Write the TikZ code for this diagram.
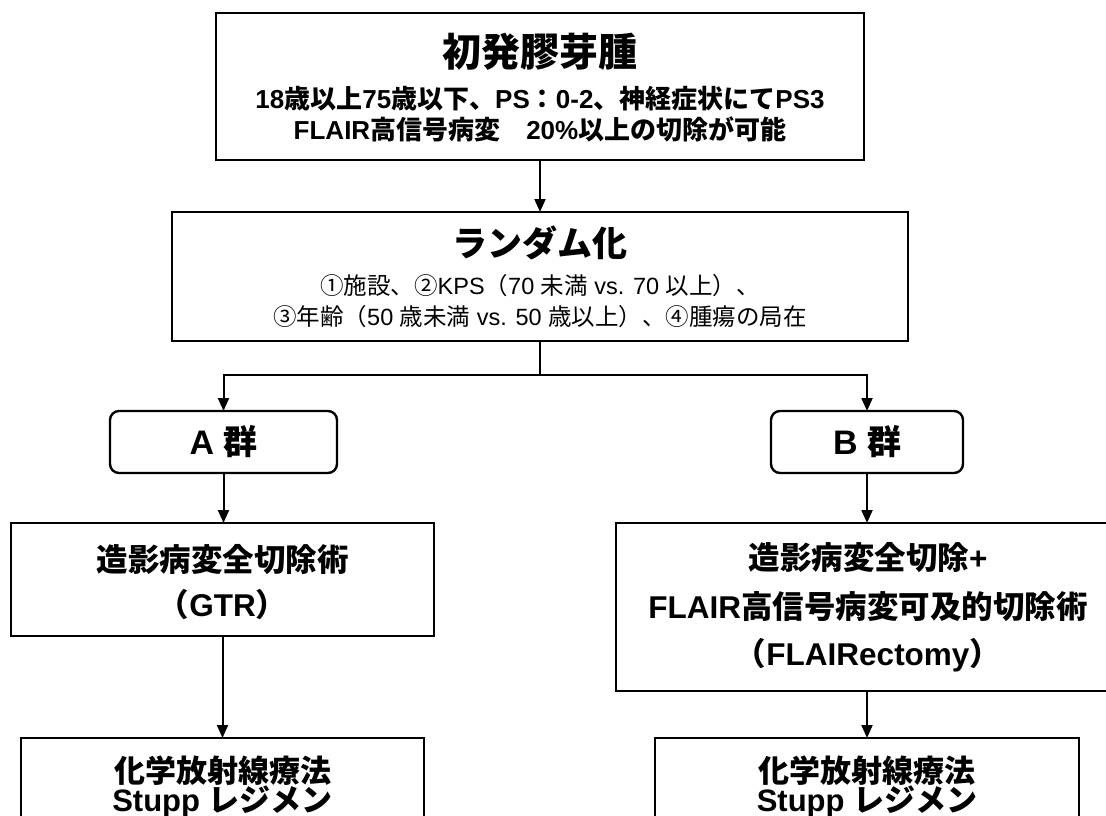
\documentclass[tikz,border=0pt]{standalone}
\usepackage{fontspec}
\usepackage{graphicx}
\setmainfont{Liberation Sans}
\newfontfamily\jp{Noto Sans CJK JP}
\usetikzlibrary{arrows.meta}
\newcommand{\fs}[1]{\fontsize{#1}{#1}\selectfont}
\begin{document}
\begin{tikzpicture}[x=1pt,y=-1pt,
  box/.style={draw, line width=2.8pt, minimum width=#1, inner sep=0pt, outer sep=0pt},
  grp/.style={draw, line width=2.4pt, rounded corners=9pt, minimum width=#1, minimum height=62pt, inner sep=0pt, outer sep=0pt},
  txt/.style={inner sep=0pt, outer sep=0pt, anchor=center},
  arr/.style={line width=2pt, -{Triangle[length=13pt,width=11pt]}},
  ln/.style={line width=2pt}]
\useasboundingbox (0,0) rectangle (1106,816);
\clip (0,0) rectangle (1106,816);
\fill[white] (0,0) rectangle (1106,816);
% boxes
\node[box=648pt, minimum height=147pt] (top) at (540,86.5) {};
\node[box=736pt, minimum height=129pt] (rand) at (540,276.5) {};
\node[grp=227pt] (A) at (223.5,442) {};
\node[grp=192pt] (B) at (867,442) {};
\node[box=423pt, minimum height=113pt] (gtr) at (222.5,579.5) {};
\node[box=504pt, minimum height=168pt] (flair) at (868,607) {};
\node[box=403pt, minimum height=92pt] (chA) at (222.5,784) {};
\node[box=424pt, minimum height=92pt] (chB) at (867,784) {};
% texts
\node[txt, font=\bfseries\fs{39}] (t1) at (540,52) {\jp 初発膠芽腫};
\node[txt, font=\bfseries\fs{26}] (t2) at (540,99) {18{\jp 歳以上}75{\jp 歳以下、}PS{\jp ：}0-2{\jp 、神経症状にて}PS3};
\node[txt, font=\bfseries\fs{26}] (t3) at (540,129) {FLAIR{\jp 高信号病変　}20\%{\jp 以上の切除が可能}};
\node[txt, font=\bfseries\fs{35}] (r1) at (540,243) {\jp ランダム化};
\node[txt, font=\fs{23.5}] (r2) at (540,286) {{\jp ①施設、②}KPS{\jp （}70 {\jp 未満} vs. 70 {\jp 以上）、}};
\node[txt, font=\fs{23.5}] (r3) at (540,317) {{\jp ③年齢（}50 {\jp 歳未満} vs. 50 {\jp 歳以上）、④腫瘍の局在}};
\node[txt, font=\bfseries\fs{34}] (a1) at (A.center) {A {\jp 群}};
\node[txt, font=\bfseries\fs{34}] (b1) at (B.center) {B {\jp 群}};
\node[txt, font=\bfseries\fs{31.5}] (g1) at (222.5,560) {\jp 造影病変全切除術};
\node[txt, font=\bfseries\fs{31.5}] (g2) at (222.5,605) {{\jp （}GTR{\jp ）}};
\node[txt, font=\bfseries\fs{31.5}] (f1) at (868,558) {{\jp 造影病変全切除}+};
\node[txt, font=\bfseries\fs{31.5}] (f2) at (868,607) {FLAIR{\jp 高信号病変可及的切除術}};
\node[txt, font=\bfseries\fs{31.5}] (f3) at (868,655) {{\jp （}FLAIRectomy{\jp ）}};
\node[txt, font=\bfseries\fs{31}] (c1) at (222.5,771) {\jp 化学放射線療法};
\node[txt, font=\bfseries\fs{31}] (c2) at (222.5,802) {Stupp {\jp レジメン}};
\node[txt, font=\bfseries\fs{31}] (d1) at (867,771) {\jp 化学放射線療法};
\node[txt, font=\bfseries\fs{31}] (d2) at (867,802) {Stupp {\jp レジメン}};
% connectors
\coordinate (split) at (540,375);
\draw[arr] (top.south) -- (rand.north);
\draw[ln] (rand.south) -- (split);
\draw[arr] (split) -| (A.north);
\draw[arr] (split) -| (B.north);
\draw[arr] (A.south) -- (A.south |- gtr.north);
\draw[arr] (B.south) -- (B.south |- flair.north);
\draw[arr] (gtr.south) -- (gtr.south |- chA.north);
\draw[arr] (B.south |- flair.south) -- (chB.north);
\end{tikzpicture}
\end{document}
